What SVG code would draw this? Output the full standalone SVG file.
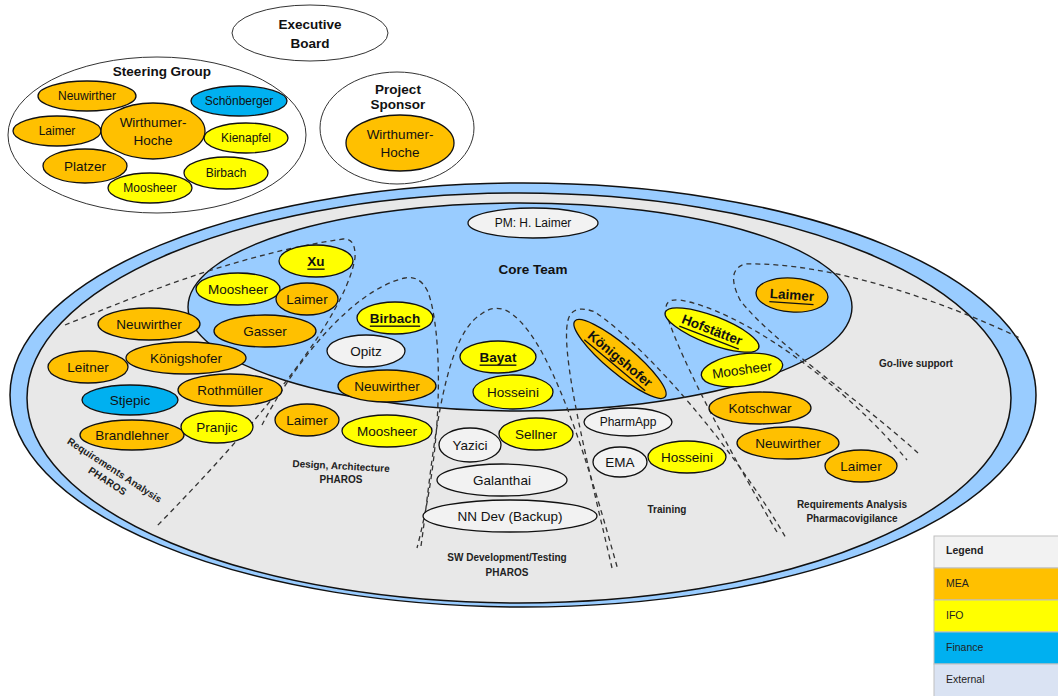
<svg xmlns="http://www.w3.org/2000/svg" width="1058" height="696" viewBox="0 0 1058 696">
<style>
.t{font-family:"Liberation Sans",Arial,sans-serif;font-size:13.5px;text-anchor:middle;dominant-baseline:central;fill:#111}
.s{font-size:12px}
.b{font-weight:bold}
.u{font-weight:bold;text-decoration:underline}
.lb{font-family:"Liberation Sans",Arial,sans-serif;font-weight:bold;font-size:10px;text-anchor:middle;dominant-baseline:central;fill:#222}
.n{stroke:#111;stroke-width:1.3}
.mea{fill:#ffc000}
.ifo{fill:#ffff00}
.fin{fill:#00b0f0}
.ext{fill:#f2f2f2}
.grp{fill:#fff;stroke:#333;stroke-width:1}
.d{fill:none;stroke:#333;stroke-width:1.3;stroke-dasharray:5 4}
.lg{font-family:"Liberation Sans",Arial,sans-serif;font-size:10.5px;dominant-baseline:central;fill:#222}
</style>

<!-- Executive board -->
<g id="executive-board">
<ellipse cx="310" cy="33" rx="78" ry="28" class="grp" stroke-width="1.3"/>
<text class="t b" x="310" y="24" font-size="13">Executive</text>
<text class="t b" x="310" y="43" font-size="13">Board</text>
</g>

<!-- Steering group -->
<g id="steering-group">
<ellipse cx="157" cy="135" rx="149" ry="78" class="grp"/>
<text class="t b" x="162" y="71" font-size="12.5">Steering Group</text>
</g>
<g id="sg-neuwirther"><ellipse cx="87" cy="96" rx="49" ry="15" class="n mea"/><text class="t s" x="87" y="96">Neuwirther</text></g>
<g id="sg-schoenberger"><ellipse cx="239" cy="101" rx="48" ry="15" class="n fin"/><text class="t s" x="239" y="101">Schönberger</text></g>
<g id="sg-laimer"><ellipse cx="57" cy="131" rx="44" ry="15" class="n mea"/><text class="t s" x="57" y="131">Laimer</text></g>
<g id="sg-wirthumer"><ellipse cx="153" cy="131" rx="52" ry="28" class="n mea"/><text class="t" x="153" y="122" font-size="14">Wirthumer-</text><text class="t" x="153" y="140" font-size="14">Hoche</text></g>
<g id="sg-kienapfel"><ellipse cx="246" cy="138" rx="42" ry="15" class="n ifo"/><text class="t s" x="246" y="138">Kienapfel</text></g>
<g id="sg-platzer"><ellipse cx="85" cy="166" rx="42" ry="17" class="n mea"/><text class="t" x="85" y="166" font-size="13">Platzer</text></g>
<g id="sg-birbach"><ellipse cx="226" cy="173" rx="42" ry="16" class="n ifo"/><text class="t s" x="226" y="173">Birbach</text></g>
<g id="sg-moosheer"><ellipse cx="150" cy="188" rx="42" ry="15" class="n ifo"/><text class="t s" x="150" y="188">Moosheer</text></g>

<!-- Project sponsor -->
<g id="project-sponsor">
<ellipse cx="397" cy="128" rx="77" ry="56" class="grp"/>
<text class="t b" x="398" y="89" font-size="12.5">Project</text>
<text class="t b" x="398" y="104" font-size="12.5">Sponsor</text>
</g>
<g id="ps-wirthumer"><ellipse cx="400" cy="143" rx="54" ry="28" class="n mea"/><text class="t" x="400" y="134" font-size="14">Wirthumer-</text><text class="t" x="400" y="152" font-size="14">Hoche</text></g>

<!-- Big project ellipses -->
<g id="project-area">
<ellipse cx="523" cy="395" rx="513" ry="212" fill="#99ccff" stroke="#111" stroke-width="1.5"/>
<ellipse cx="519" cy="398" rx="492" ry="205" fill="#e8e8e8" stroke="#111" stroke-width="1.5"/>
</g>
<g id="core-team">
<ellipse cx="520" cy="307" rx="332" ry="104" fill="#99ccff" stroke="#111" stroke-width="1.4"/>
<text class="t b" x="533" y="269" font-size="15">Core Team</text>
</g>

<!-- group outlines -->
<g id="connectors">
<path class="d" d="M65,325 C120,303 230,255 343,239 Q356,238 355,258 C348,300 300,380 157,526"/>
<path class="d" d="M262,425 C290,370 350,290 405,278 Q420,275 428,292 C442,330 445,440 417,548"/>
<path class="d" d="M421,546 C432,470 440,340 480,315 Q492,305 505,310 C550,330 590,470 618,570"/>
<path class="d" d="M612,568 C592,480 555,340 570,315 Q577,305 595,312 C650,350 735,450 786,538"/>
<path class="d" d="M777,532 C740,470 680,360 667,315 Q662,298 680,300 C740,310 840,380 907,460"/>
<path class="d" d="M918,453 C860,400 770,340 740,300 Q725,270 745,264 C830,262 940,300 1020,338"/>
</g>

<g id="pm"><ellipse cx="533" cy="223" rx="65" ry="15" class="n ext"/><text class="t s" x="533" y="223">PM: H. Laimer</text></g>

<!-- Requirements Analysis PHAROS -->
<g id="ra-xu"><ellipse cx="316" cy="261" rx="37" ry="16" class="n ifo"/><text class="t u" x="316" y="261">Xu</text></g>
<g id="ra-moosheer"><ellipse cx="238" cy="289" rx="42" ry="16" class="n ifo"/><text class="t" x="238" y="289">Moosheer</text></g>
<g id="ra-laimer"><ellipse cx="307" cy="299" rx="31" ry="16" class="n mea"/><text class="t" x="307" y="299">Laimer</text></g>
<g id="ra-neuwirther"><ellipse cx="149" cy="324" rx="51" ry="16" class="n mea"/><text class="t" x="149" y="324">Neuwirther</text></g>
<g id="ra-gasser"><ellipse cx="265" cy="331" rx="51" ry="16" class="n mea"/><text class="t" x="265" y="331">Gasser</text></g>
<g id="ra-leitner"><ellipse cx="88" cy="367" rx="40" ry="16" class="n mea"/><text class="t" x="88" y="367">Leitner</text></g>
<g id="ra-koenigshofer"><ellipse cx="186" cy="358" rx="60" ry="16" class="n mea"/><text class="t" x="186" y="358">Königshofer</text></g>
<g id="ra-stjepic"><ellipse cx="130" cy="400" rx="48" ry="15" class="n fin"/><text class="t" x="130" y="400">Stjepic</text></g>
<g id="ra-rothmueller"><ellipse cx="230" cy="390" rx="52" ry="16" class="n mea"/><text class="t" x="230" y="390">Rothmüller</text></g>
<g id="ra-brandlehner"><ellipse cx="132" cy="435" rx="52" ry="15" class="n mea"/><text class="t" x="132" y="435">Brandlehner</text></g>
<g id="ra-pranjic"><ellipse cx="217" cy="427" rx="36" ry="16" class="n ifo"/><text class="t" x="217" y="427">Pranjic</text></g>
<g id="lbl-ra" transform="translate(111,475.5) rotate(33)">
<text class="lb" x="0" y="-6.5">Requirements Analysis</text>
<text class="lb" x="0" y="6.5">PHAROS</text>
</g>

<!-- Design, Architecture -->
<g id="da-birbach"><ellipse cx="395" cy="318" rx="38" ry="16" class="n ifo"/><text class="t u" x="395" y="318">Birbach</text></g>
<g id="da-opitz"><ellipse cx="366" cy="351" rx="39" ry="16" class="n ext"/><text class="t" x="366" y="351">Opitz</text></g>
<g id="da-neuwirther"><ellipse cx="387" cy="386" rx="49" ry="16" class="n mea"/><text class="t" x="387" y="386">Neuwirther</text></g>
<g id="da-laimer"><ellipse cx="307" cy="420" rx="32" ry="16" class="n mea"/><text class="t" x="307" y="420">Laimer</text></g>
<g id="da-moosheer"><ellipse cx="387" cy="431" rx="45" ry="16" class="n ifo"/><text class="t" x="387" y="431">Moosheer</text></g>
<g id="lbl-da">
<text class="lb" x="341" y="466" transform="rotate(3 341 466)">Design, Architecture</text>
<text class="lb" x="341" y="479">PHAROS</text>
</g>

<!-- SW Development -->
<g id="sw-bayat"><ellipse cx="498" cy="357" rx="38" ry="16" class="n ifo"/><text class="t u" x="498" y="357">Bayat</text></g>
<g id="sw-hosseini"><ellipse cx="513" cy="392" rx="40" ry="17" class="n ifo"/><text class="t" x="513" y="392">Hosseini</text></g>
<g id="sw-yazici"><ellipse cx="470" cy="445" rx="31" ry="17" class="n ext"/><text class="t" x="470" y="445">Yazici</text></g>
<g id="sw-sellner"><ellipse cx="536" cy="434" rx="37" ry="16" class="n ifo"/><text class="t" x="536" y="434">Sellner</text></g>
<g id="sw-galanthai"><ellipse cx="502" cy="480" rx="65" ry="16" class="n ext"/><text class="t" x="502" y="480" font-size="13">Galanthai</text></g>
<g id="sw-nndev"><ellipse cx="510" cy="516" rx="87" ry="16" class="n ext"/><text class="t" x="510" y="516" font-size="13">NN Dev (Backup)</text></g>
<g id="lbl-sw">
<text class="lb" x="507" y="557">SW Development/Testing</text>
<text class="lb" x="507" y="572">PHAROS</text>
</g>

<!-- Training -->
<g id="tr-koenigshofer" transform="translate(620,359) rotate(40)"><ellipse cx="0" cy="0" rx="59" ry="14" class="n mea"/><text class="t u" x="0" y="0">Königshofer</text></g>
<g id="tr-pharmapp"><ellipse cx="628" cy="422" rx="44" ry="14" class="n ext"/><text class="t s" x="628" y="422">PharmApp</text></g>
<g id="tr-ema"><ellipse cx="620" cy="462" rx="27" ry="15" class="n ext"/><text class="t" x="620" y="462" font-size="11.5">EMA</text></g>
<g id="tr-hosseini"><ellipse cx="687" cy="457" rx="39" ry="16" class="n ifo"/><text class="t" x="687" y="457">Hosseini</text></g>
<g id="lbl-tr"><text class="lb" x="667" y="509">Training</text></g>

<!-- Requirements Pharmacovigilance -->
<g id="pv-hofstaetter" transform="translate(712,330) rotate(21)"><ellipse cx="0" cy="0" rx="50" ry="14" class="n ifo"/><text class="t u" x="0" y="0">Hofstätter</text></g>
<g id="pv-moosheer" transform="translate(742,370) rotate(-8)"><ellipse cx="0" cy="0" rx="41" ry="16" class="n ifo"/><text class="t" x="0" y="0">Moosheer</text></g>
<g id="pv-kotschwar"><ellipse cx="760" cy="408" rx="51" ry="16" class="n mea"/><text class="t" x="760" y="408" font-size="13">Kotschwar</text></g>
<g id="pv-neuwirther"><ellipse cx="788" cy="443" rx="51" ry="16" class="n mea"/><text class="t" x="788" y="443">Neuwirther</text></g>
<g id="pv-laimer"><ellipse cx="861" cy="466" rx="36" ry="16" class="n mea"/><text class="t" x="861" y="466">Laimer</text></g>
<g id="lbl-pv">
<text class="lb" x="852" y="504">Requirements Analysis</text>
<text class="lb" x="852" y="518">Pharmacovigilance</text>
</g>

<!-- Go-live -->
<g id="gl-laimer" transform="translate(792,295) rotate(4)"><ellipse cx="0" cy="0" rx="36" ry="17" class="n mea"/><text class="t u" x="0" y="0">Laimer</text></g>
<g id="lbl-gl"><text class="lb" x="916" y="363" font-size="10.5">Go-live support</text></g>

<!-- Legend -->
<g id="legend">
<rect x="934" y="536" width="130" height="32" fill="#f2f2f2" stroke="#bfbfbf"/>
<rect x="934" y="568" width="130" height="32" fill="#ffc000" stroke="#bfbfbf"/>
<rect x="934" y="600" width="130" height="32" fill="#ffff00" stroke="#bfbfbf"/>
<rect x="934" y="632" width="130" height="32" fill="#00b0f0" stroke="#bfbfbf"/>
<rect x="934" y="664" width="130" height="33" fill="#dae3f3" stroke="#bfbfbf"/>
<text class="lg" x="946" y="550" font-weight="bold" font-size="10">Legend</text>
<text class="lg" x="946" y="583">MEA</text>
<text class="lg" x="946" y="615">IFO</text>
<text class="lg" x="946" y="647">Finance</text>
<text class="lg" x="946" y="679">External</text>
</g>
</svg>
